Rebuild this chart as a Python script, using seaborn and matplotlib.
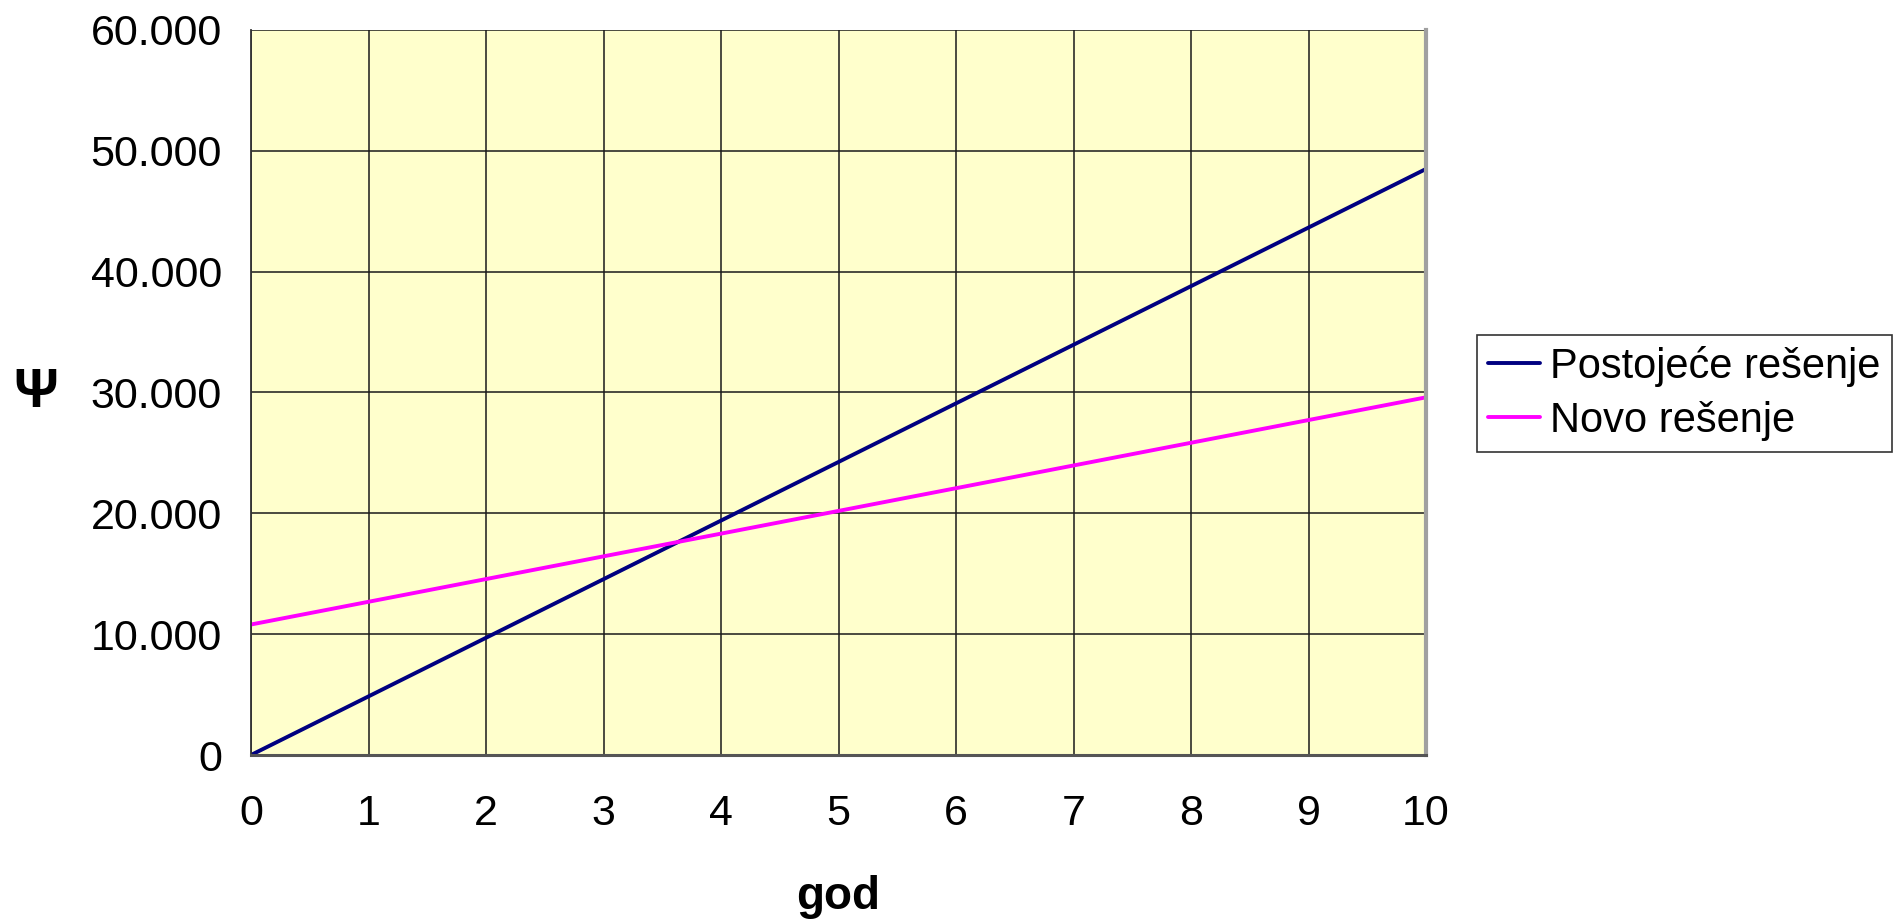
import seaborn as sns
import pandas as pd
import matplotlib.pyplot as plt
from matplotlib.ticker import FuncFormatter

years = [0, 1, 2, 3, 4, 5, 6, 7, 8, 9, 10]
postojece = [0, 4850, 9700, 14550, 19400, 24250, 29100, 33950, 38800, 43650, 48500]
novo = [10800, 12680, 14560, 16440, 18320, 20200, 22080, 23960, 25840, 27720, 29600]
series_names = ['Postojeće rešenje', 'Novo rešenje']

df = pd.DataFrame({
    'god': years * 2,
    'value': postojece + novo,
    'serija': [series_names[0]] * len(years) + [series_names[1]] * len(years),
})

sns.set_style('white')
plt.rcParams['font.family'] = ['Liberation Sans', 'DejaVu Sans']
plt.rcParams['text.color'] = 'black'
plt.rcParams['xtick.color'] = 'black'
plt.rcParams['ytick.color'] = 'black'
plt.rcParams['axes.labelcolor'] = 'black'

fig, ax = plt.subplots(figsize=(18.94, 9.21), dpi=100)
fig.subplots_adjust(left=251/1894, right=1426/1894, top=1-30/921, bottom=1-755/921)

palette = {series_names[0]: '#000080', series_names[1]: '#FF00FF'}
sns.lineplot(data=df, x='god', y='value', hue='serija', palette=palette,
             linewidth=2.8, ax=ax)

ax.set_facecolor('#FFFFCC')
ax.set_xlim(0, 10)
ax.set_ylim(0, 60000)
ax.set_xticks(range(0, 11))
ax.set_yticks(range(0, 60001, 10000))
ax.yaxis.set_major_formatter(FuncFormatter(lambda v, p: f'{int(v):,}'.replace(',', '.')))
ax.grid(True, color='#1a1a1a', linewidth=1.1)
ax.set_axisbelow(True)

ax.spines['top'].set_visible(False)
ax.spines['left'].set_color('#333333')
ax.spines['left'].set_linewidth(1.3)
ax.spines['bottom'].set_color('#555555')
ax.spines['bottom'].set_linewidth(2.2)
ax.spines['right'].set_color('#A0A0A0')
ax.spines['right'].set_linewidth(3)

ax.tick_params(axis='both', which='major', labelsize=31, labelcolor='black',
               direction='out', length=9, width=1.3, color='#555555')
ax.tick_params(axis='y', pad=12)
ax.tick_params(axis='x', pad=19)

ax.set_xlabel('god', fontsize=33, fontweight='bold')
ax.xaxis.set_label_coords(0.5, -0.165)
ax.set_ylabel('')
# the "euro" label is shown as a psi-like glyph in the original
fig.text(36/1894, 1-393/921, 'Ψ', fontsize=40, fontweight='bold',
         ha='center', va='center')

leg = ax.legend(title=None, loc='upper left', bbox_to_anchor=(1477/1894, 1-335/921),
                bbox_transform=fig.transFigure, borderaxespad=0, fontsize=30,
                frameon=True, fancybox=False, handlelength=1.25, handletextpad=0.25,
                labelspacing=0.34, borderpad=0.26)
leg.get_frame().set_edgecolor('black')
leg.get_frame().set_linewidth(1.2)
for t in leg.get_texts():
    t.set_color('black')

fig.savefig('out.png', dpi=100)
